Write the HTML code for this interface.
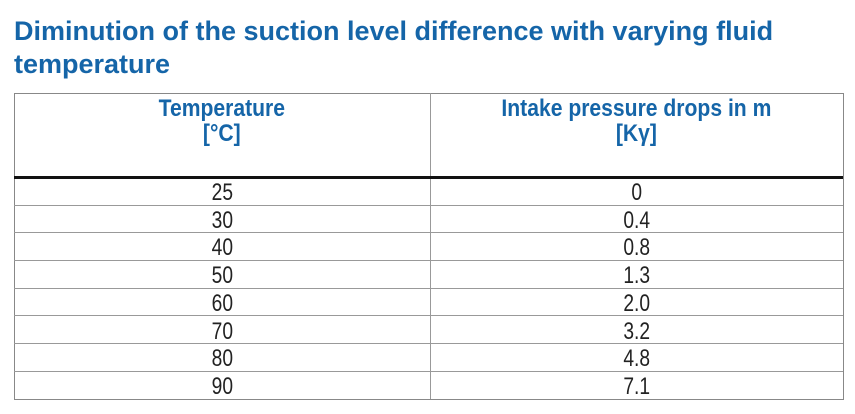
<!DOCTYPE html>
<html><head><style>
body{margin:0;width:855px;height:414px;background:#fff;position:relative;overflow:hidden;font-family:"Liberation Sans",sans-serif}
.t{position:absolute;left:14px;color:#1565a8;font-weight:bold;font-size:27px;white-space:nowrap}
.c{position:absolute;text-align:center;white-space:nowrap}
.c span{display:inline-block;transform:scaleX(0.8)}
.h{color:#1565a8;font-weight:bold;font-size:24px;line-height:25px}
.h span{transform:scaleX(0.88)}
.n{color:#222;font-size:24px;line-height:27.7px}
.hl{position:absolute;left:14px;width:829px;height:1px;background:#999}
</style></head><body>
<div class="t" style="top:16px">Diminution of the suction level difference with varying fluid</div>
<div class="t" style="top:49px">temperature</div>
<div style="position:absolute;left:14px;top:93px;width:828px;height:305px;border:1px solid #888"></div>
<div style="position:absolute;left:430px;top:93px;width:1px;height:306px;background:#999"></div>
<div style="position:absolute;left:14px;top:176px;width:829px;height:3px;background:#111"></div>
<div class="hl" style="top:205px"></div><div class="hl" style="top:232px"></div><div class="hl" style="top:260px"></div><div class="hl" style="top:288px"></div><div class="hl" style="top:315px"></div><div class="hl" style="top:343px"></div><div class="hl" style="top:371px"></div>
<div class="c h" style="left:14px;width:416px;top:96px"><span>Temperature<br>[°C]</span></div>
<div class="c h" style="left:430px;width:413px;top:96px"><span>Intake pressure drops in m<br>[Kγ]</span></div>
<div class="c n" style="left:14px;width:416px;top:179px"><span>25<br>30<br>40<br>50<br>60<br>70<br>80<br>90</span></div>
<div class="c n" style="left:430px;width:413px;top:179px"><span>0<br>0.4<br>0.8<br>1.3<br>2.0<br>3.2<br>4.8<br>7.1</span></div>
</body></html>
